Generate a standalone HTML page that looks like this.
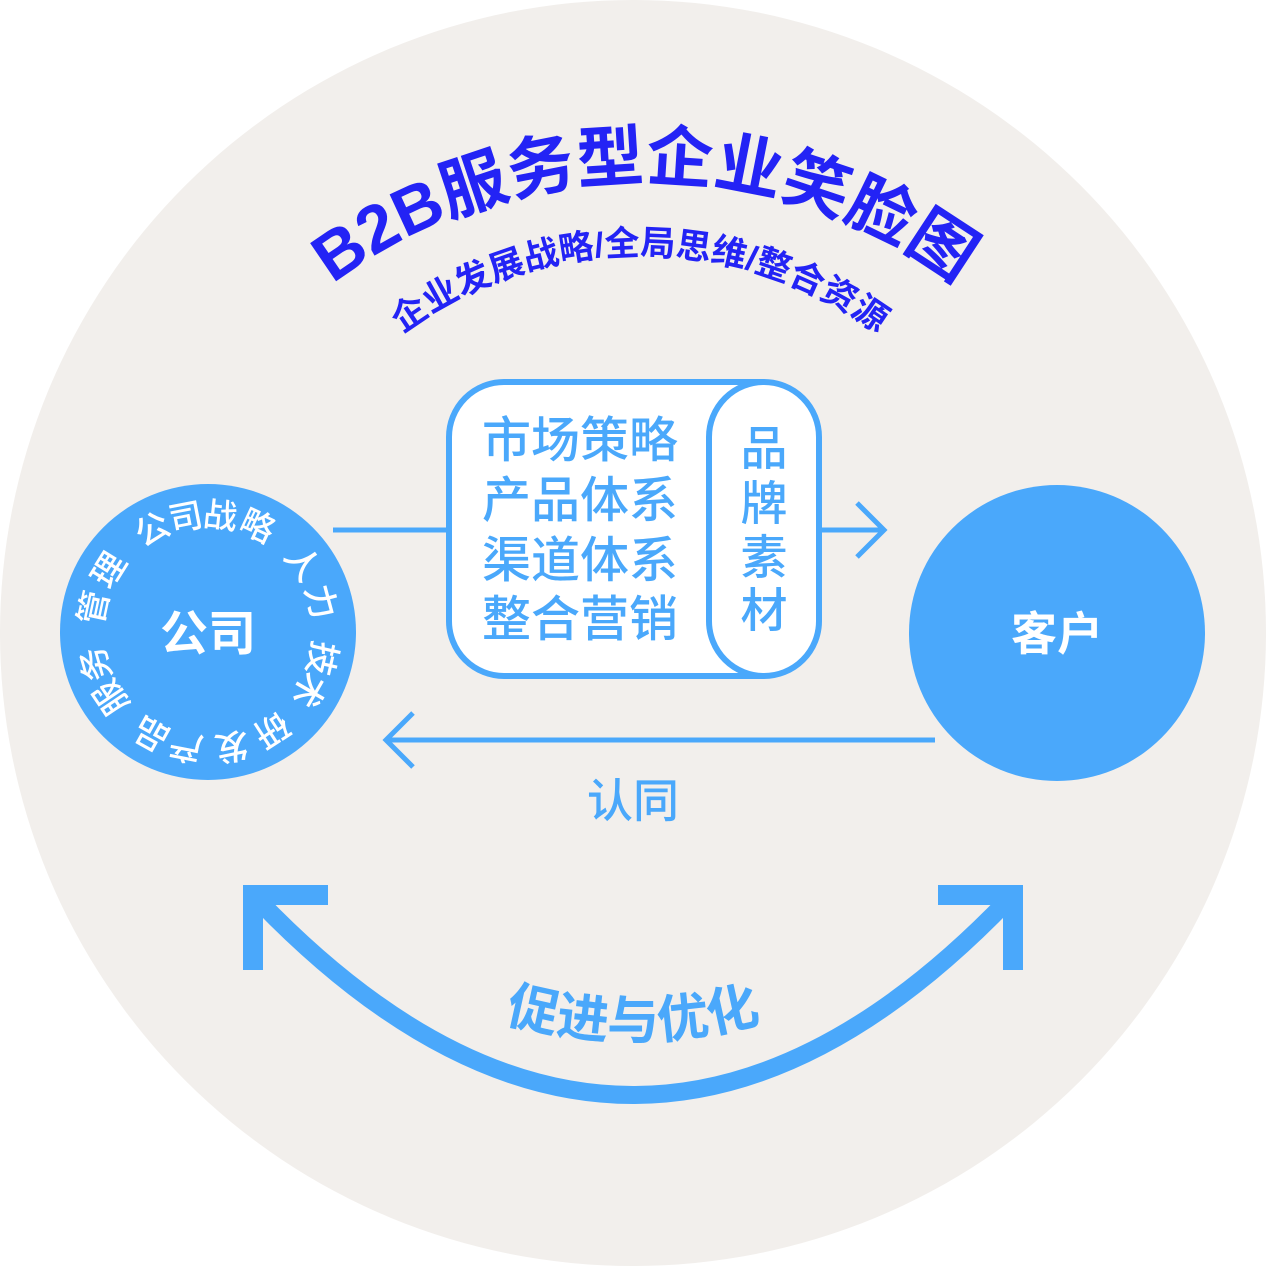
<!DOCTYPE html>
<html><head><meta charset="utf-8"><style>
html,body{margin:0;padding:0;background:#fff}
svg{display:block}
text{font-family:"Liberation Sans","Noto Sans CJK SC",sans-serif}
</style></head><body>
<svg width="1266" height="1266" viewBox="0 0 1266 1266" xmlns="http://www.w3.org/2000/svg">
<defs>
<path id="t1" d="M 125 700 A 520 520 0 0 1 1165 700"/>
<path id="t2" d="M 240 655 A 400 400 0 0 1 1040 655"/>
<path id="t3" d="M 480 1014 Q 633 1064 786 1014"/>
</defs>
<circle cx="633" cy="633" r="633" fill="#f2efec"/>
<text font-size="67" font-weight="bold" fill="#2323f5" text-anchor="middle"><textPath href="#t1" startOffset="50%">B2B服务型企业笑脸图</textPath></text>
<text font-size="35" font-weight="bold" fill="#2323f5" text-anchor="middle"><textPath href="#t2" startOffset="50%">企业发展战略/全局思维/整合资源</textPath></text>

<circle cx="208" cy="632" r="148" fill="#4aa8fb"/>
<text x="208" y="650" font-size="48" font-weight="bold" fill="#fff" text-anchor="middle">公司</text>
<g fill="#fff" font-size="34" font-weight="500" text-anchor="middle">
<text transform="rotate(-28.5 208 632)" x="208" y="527">公</text>
<text transform="rotate(-11 208 632)" x="208" y="527">司</text>
<text transform="rotate(6 208 632)" x="208" y="527">战</text>
<text transform="rotate(25 208 632)" x="208" y="527">略</text>
<text transform="rotate(54 208 632)" x="208" y="527">人</text>
<text transform="rotate(75 208 632)" x="208" y="527">力</text>
<text transform="rotate(103 208 632)" x="208" y="527">技</text>
<text transform="rotate(120 208 632)" x="208" y="527">术</text>
<text transform="rotate(147 208 632)" x="208" y="527">研</text>
<text transform="rotate(168 208 632)" x="208" y="527">发</text>
<text transform="rotate(191 208 632)" x="208" y="527">产</text>
<text transform="rotate(209 208 632)" x="208" y="527">品</text>
<text transform="rotate(236 208 632)" x="208" y="527">服</text>
<text transform="rotate(254 208 632)" x="208" y="527">务</text>
<text transform="rotate(282 208 632)" x="208" y="527">管</text>
<text transform="rotate(302 208 632)" x="208" y="527">理</text>
</g>

<circle cx="1057" cy="633" r="148" fill="#4aa8fb"/>
<text x="1057" y="650" font-size="46" font-weight="bold" fill="#fff" text-anchor="middle">客户</text>

<g stroke="#4aa8fb" stroke-width="5" fill="none">
<line x1="333" y1="530" x2="449" y2="530"/>
<line x1="818" y1="530" x2="884" y2="530"/>
<polyline points="857,503 884,530 857,557"/>
<line x1="935" y1="740" x2="386" y2="740"/>
<polyline points="413,713 386,740 413,767"/>
</g>

<path d="M 504 382 L 763 382 A 55 148 0 0 1 763 676 L 504 676 A 55 55 0 0 1 449 621 L 449 437 A 55 55 0 0 1 504 382 Z" fill="#fff" stroke="#4aa8fb" stroke-width="6"/>
<rect x="709" y="382" width="110" height="294" rx="55" ry="55" fill="#fff" stroke="#4aa8fb" stroke-width="6"/>
<g fill="#4aa8fb" font-size="49" font-weight="500">
<text x="482" y="457">市场策略</text>
<text x="482" y="517">产品体系</text>
<text x="482" y="577">渠道体系</text>
<text x="482" y="636">整合营销</text>
</g>
<g fill="#4aa8fb" font-size="47" font-weight="500" text-anchor="middle">
<text x="764" y="465">品</text>
<text x="764" y="520">牌</text>
<text x="764" y="574">素</text>
<text x="764" y="627">材</text>
</g>
<text x="633" y="817" font-size="46" font-weight="500" fill="#4aa8fb" text-anchor="middle">认同</text>

<path d="M 258 900 Q 633 1290 1008 900" stroke="#4aa8fb" stroke-width="18" fill="none"/>
<path d="M 243 885 H 328 V 905 H 263 V 970 H 243 Z" fill="#4aa8fb"/>
<path d="M 1023 885 H 938 V 905 H 1003 V 970 H 1023 Z" fill="#4aa8fb"/>
<text font-size="52" font-weight="bold" fill="#4aa8fb" text-anchor="middle"><textPath href="#t3" startOffset="50%">促进与优化</textPath></text>
</svg>
</body></html>
